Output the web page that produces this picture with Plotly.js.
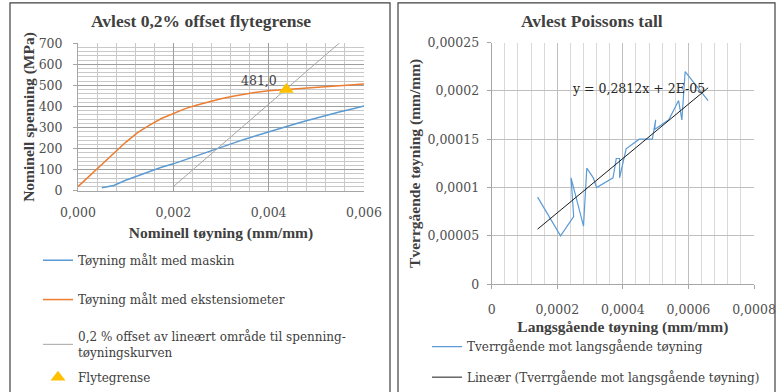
<!DOCTYPE html>
<html>
<head>
<meta charset="utf-8">
<script src="https://cdn.plot.ly/plotly-3.0.1.min.js"></script>
<style>html,body{margin:0;padding:0;background:#fff;}#chart{width:778px;height:392px;}</style>
</head>
<body>
<div id="chart"></div>
<script>
// ---------- data: left chart (stress-strain) ----------
const machineX = [0.0005, 0.00075, 0.001, 0.00125, 0.0015, 0.00175, 0.002, 0.00225, 0.0025, 0.00275, 0.003, 0.00325, 0.0035, 0.00375, 0.004, 0.00425, 0.0045, 0.00475, 0.005, 0.00525, 0.0055, 0.00575, 0.006];
const machineY = [15, 25, 50, 70, 92, 112, 128, 148, 168, 188, 208, 228, 245, 262, 280, 298, 313, 330, 346, 362, 375, 388, 402];
const extX = [0, 0.00025, 0.0005, 0.00075, 0.001, 0.00125, 0.0015, 0.00175, 0.002, 0.00225, 0.0025, 0.00275, 0.003, 0.00325, 0.0035, 0.00375, 0.004, 0.00425, 0.0045, 0.00475, 0.005, 0.00525, 0.0055, 0.00575, 0.006];
const extY = [20, 72, 122, 176, 230, 276, 312, 343, 368, 390, 407, 423, 437, 449, 460, 468, 475, 479, 485, 490, 494, 498, 501, 505, 507];
const offsetX = [0.002, 0.006];
const offsetY = [20, 802];
const yieldX = [0.00437];
const yieldY = [481.0];
const leftXTicks = [0, 0.002, 0.004, 0.006];
const leftXTickText = ["0,000", "0,002", "0,004", "0,006"];
const leftYTicks = [0, 100, 200, 300, 400, 500, 600, 700];

// ---------- data: right chart (Poisson) ----------
const longX = [0.00014, 0.00021, 0.00025, 0.000242, 0.00028, 0.00029, 0.00031, 0.00032, 0.00037, 0.00038, 0.00039, 0.00039, 0.00041, 0.00045, 0.00049, 0.0005, 0.000497, 0.00054, 0.00057, 0.00058, 0.00059, 0.00066];
const transY = [0.00009, 0.00005, 0.00007, 0.00011, 0.00006, 0.00012, 0.00011, 0.0001, 0.00011, 0.00013, 0.00013, 0.00011, 0.00014, 0.00015, 0.00015, 0.00017, 0.00016, 0.00017, 0.00019, 0.00017, 0.00022, 0.00019];
const trendX = [0.00014, 0.00066];
const trendY = [0.0000569, 0.0002031];
const trendLabel = "y = 0,2812x + 2E-05";
const rightXTicks = [0, 0.0002, 0.0004, 0.0006, 0.0008];
const rightXTickText = ["0", "0,0002", "0,0004", "0,0006", "0,0008"];
const rightYTicks = [0, 0.00005, 0.0001, 0.00015, 0.0002, 0.00025];
const rightYTickText = ["0", "0,00005", "0,0001", "0,00015", "0,0002", "0,00025"];

// ---------- layout helpers ----------
const W = 778, H = 392;
const px = v => v / W;
const py = v => 1 - v / H;
const SERIF = "DejaVu Serif, serif";
const SERIF_B = "Liberation Serif, serif";
const txt = "#404040";
const tickTxt = "#505050";

const traces = [
  {x: machineX, y: machineY, xaxis: 'x', yaxis: 'y', mode: 'lines', name: 'Tøyning målt med maskin',
   line: {color: '#5B9BD5', width: 1.5}, legend: 'legend'},
  {x: extX, y: extY, xaxis: 'x', yaxis: 'y', mode: 'lines', name: 'Tøyning målt med ekstensiometer',
   line: {color: '#ED7D31', width: 1.5}, legend: 'legend2'},
  {x: offsetX, y: offsetY, xaxis: 'x', yaxis: 'y', mode: 'lines', name: '0,2 % offset av lineært område til spenning-<br>tøyningskurven',
   line: {color: '#A5A5A5', width: 1}, legend: 'legend3'},
  {x: yieldX, y: yieldY, xaxis: 'x', yaxis: 'y', mode: 'markers', name: 'Flytegrense',
   marker: {symbol: 'triangle-up', color: '#FFC000', size: 13}, cliponaxis: false, legend: 'legend4'},
  {x: longX, y: transY, xaxis: 'x2', yaxis: 'y2', mode: 'lines', name: 'Tverrgående mot langsgående tøyning',
   line: {color: '#5B9BD5', width: 1.2}, legend: 'legend5'},
  {x: trendX, y: trendY, xaxis: 'x2', yaxis: 'y2', mode: 'lines', name: 'Lineær (Tverrgående mot langsgående tøyning)',
   line: {color: '#1a1a1a', width: 1}, legend: 'legend6'}
];

function leg(xp, yp) {
  return {x: px(xp), y: py(yp), xanchor: 'left', yanchor: 'middle', bgcolor: 'rgba(0,0,0,0)',
          font: {family: SERIF, size: 12, color: txt}, itemwidth: 30, tracegroupgap: 0, borderwidth: 0};
}

const layout = {
  width: W, height: H,
  margin: {l: 0, r: 0, t: 0, b: 0},
  paper_bgcolor: '#fff', plot_bgcolor: '#fff',
  separators: ', ',
  showlegend: true,
  xaxis: {domain: [px(78), px(364)], range: [0, 0.006], tickvals: leftXTicks, ticktext: leftXTickText,
          showgrid: true, gridcolor: '#9E9E9E', gridwidth: 1,
          minor: {dtick: 0.0004, showgrid: true, gridcolor: '#C8C8C8', gridwidth: 1},
          showline: true, linecolor: '#A6A6A6', ticks: '', zeroline: false, ticklabelstandoff: 10,
          tickfont: {family: SERIF, size: 12.5, color: tickTxt},
          title: {text: 'Nominell tøyning (mm/mm)', font: {family: SERIF_B, size: 15.5, color: txt, weight: 'bold'}, standoff: 8},
          anchor: 'y'},
  yaxis: {domain: [py(194.3), py(44)], range: [0, 700], tickvals: leftYTicks,
          showgrid: true, gridcolor: '#9E9E9E', gridwidth: 1,
          minor: {dtick: 20, showgrid: true, gridcolor: '#C8C8C8', gridwidth: 1},
          showline: true, linecolor: '#A6A6A6', ticks: 'outside', ticklen: 4, tickcolor: '#A6A6A6', zeroline: false,
          ticklabelstandoff: 8,
          tickfont: {family: SERIF, size: 12.5, color: tickTxt},
          title: {text: 'Nominell spenning (MPa)', font: {family: SERIF_B, size: 15.5, color: txt, weight: 'bold'}, standoff: 0},
          anchor: 'x'},
  xaxis2: {domain: [px(491.7), px(754)], range: [0, 0.0008], tickvals: rightXTicks, ticktext: rightXTickText,
          showgrid: true, gridcolor: '#BFBFBF', gridwidth: 1,
          minor: {dtick: 0.00004, showgrid: true, gridcolor: '#D9D9D9', gridwidth: 1},
          showline: true, linecolor: '#A6A6A6', ticks: 'outside', ticklen: 4, tickcolor: '#A6A6A6', zeroline: false,
          ticklabelstandoff: 10,
          tickfont: {family: SERIF, size: 12.5, color: tickTxt},
          title: {text: 'Langsgående tøyning (mm/mm)', font: {family: SERIF_B, size: 15.5, color: txt, weight: 'bold'}, standoff: 5},
          anchor: 'y2'},
  yaxis2: {domain: [py(289.3), py(43.3)], range: [0, 0.00025], tickvals: rightYTicks, ticktext: rightYTickText,
          showgrid: true, gridcolor: '#BFBFBF', gridwidth: 1,
          showline: true, linecolor: '#A6A6A6', ticks: 'outside', ticklen: 4, tickcolor: '#A6A6A6', zeroline: false,
          ticklabelstandoff: 5,
          tickfont: {family: SERIF, size: 12.5, color: tickTxt},
          title: {text: 'Tverrgående tøyning (mm/mm)', font: {family: SERIF_B, size: 15.5, color: txt, weight: 'bold'}, standoff: 3},
          anchor: 'x2'},
  legend: leg(38, 265),
  legend2: leg(38, 305),
  legend3: leg(38, 351),
  legend4: leg(38, 384),
  legend5: leg(427, 353),
  legend6: leg(427, 384),
  annotations: [
    {text: '<b>Avlest 0,2% offset flytegrense</b>', xref: 'paper', yref: 'paper', x: px(201), y: py(21),
     xanchor: 'center', yanchor: 'middle', showarrow: false, font: {family: SERIF_B, size: 17.5, color: txt}},
    {text: '<b>Avlest Poissons tall</b>', xref: 'paper', yref: 'paper', x: px(592), y: py(21),
     xanchor: 'center', yanchor: 'middle', showarrow: false, font: {family: SERIF_B, size: 17.5, color: txt}},
    {text: yieldY[0].toFixed(1).replace('.', ','), xref: 'x', yref: 'y', x: yieldX[0], y: yieldY[0],
     xanchor: 'right', yanchor: 'middle', xshift: -7, yshift: 9, showarrow: false,
     font: {family: SERIF, size: 12.5, color: txt}},
    {text: trendLabel, xref: 'x2', yref: 'y2', x: 0.000449, y: 0.0002025, xanchor: 'center', yanchor: 'middle',
     showarrow: false, font: {family: SERIF, size: 12.5, color: '#262626'}}
  ],
  shapes: [
    {type: 'rect', xref: 'paper', yref: 'paper', x0: px(10), x1: px(390), y0: py(400), y1: py(3),
     line: {color: '#404040', width: 1.2}, layer: 'below'},
    {type: 'rect', xref: 'paper', yref: 'paper', x0: px(398), x1: px(775), y0: py(400), y1: py(3),
     line: {color: '#404040', width: 1.2}, layer: 'below'}
  ]
};

Plotly.newPlot('chart', traces, layout, {displayModeBar: false, staticPlot: true});
</script>
</body>
</html>
